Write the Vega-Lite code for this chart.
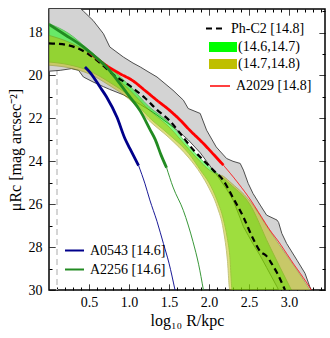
{
  "$schema": "https://vega.github.io/schema/vega-lite/v6.json",
  "width": 276,
  "height": 281,
  "autosize": "none",
  "padding": {"left": 49, "top": 9, "right": 5, "bottom": 48},
  "config": {
    "view": {"stroke": "black", "strokeWidth": 1.5},
    "font": "Liberation Serif"
  },
  "datasets": {
    "ref": [{"x": 0.1}],
    "gray": [
      {"x": 0, "hi": 16.0, "lo": 19.8},
      {"x": 0.14, "hi": 16.3, "lo": 19.76},
      {"x": 0.28, "hi": 16.6, "lo": 19.68},
      {"x": 0.37, "hi": 16.8, "lo": 19.76},
      {"x": 0.43, "hi": 17.0, "lo": 20.07},
      {"x": 0.55, "hi": 17.43, "lo": 20.3},
      {"x": 0.68, "hi": 18.05, "lo": 20.52},
      {"x": 0.76, "hi": 18.67, "lo": 20.65},
      {"x": 0.93, "hi": 19.14, "lo": 20.9},
      {"x": 1.05, "hi": 19.42, "lo": 21.15},
      {"x": 1.14, "hi": 19.6, "lo": 21.35},
      {"x": 1.25, "hi": 19.85, "lo": 21.6},
      {"x": 1.35, "hi": 20.07, "lo": 21.85},
      {"x": 1.55, "hi": 20.69, "lo": 22.4},
      {"x": 1.68, "hi": 21.15, "lo": 22.8},
      {"x": 1.74, "hi": 21.54, "lo": 23.0},
      {"x": 1.89, "hi": 21.77, "lo": 23.6},
      {"x": 1.97, "hi": 22.55, "lo": 24.0},
      {"x": 2.09, "hi": 23.33, "lo": 24.6},
      {"x": 2.22, "hi": 23.87, "lo": 25.3},
      {"x": 2.3, "hi": 24.0, "lo": 25.8},
      {"x": 2.39, "hi": 24.1, "lo": 26.65},
      {"x": 2.43, "hi": 24.41, "lo": 27.05},
      {"x": 2.49, "hi": 25.03, "lo": 27.45},
      {"x": 2.55, "hi": 25.5, "lo": 27.85},
      {"x": 2.64, "hi": 26.04, "lo": 28.4},
      {"x": 2.72, "hi": 26.51, "lo": 28.95},
      {"x": 2.85, "hi": 26.74, "lo": 29.85},
      {"x": 2.87, "hi": 26.85, "lo": 30},
      {"x": 2.91, "hi": 27.36, "lo": 30},
      {"x": 2.97, "hi": 27.83, "lo": 30},
      {"x": 3.1, "hi": 28.61, "lo": 30},
      {"x": 3.2, "hi": 29.22, "lo": 30},
      {"x": 3.26, "hi": 29.85, "lo": 30},
      {"x": 3.28, "hi": 30, "lo": 30}
    ],
    "bands": [
      {"s": "(14.6,14.7)", "x": 0, "hi": 17.58, "lo": 19.37},
      {"s": "(14.6,14.7)", "x": 0.25, "hi": 18.05, "lo": 19.5},
      {"s": "(14.6,14.7)", "x": 0.5, "hi": 18.82, "lo": 19.78},
      {"s": "(14.6,14.7)", "x": 0.75, "hi": 19.6, "lo": 20.3},
      {"s": "(14.6,14.7)", "x": 1.0, "hi": 20.45, "lo": 20.95},
      {"s": "(14.6,14.7)", "x": 1.25, "hi": 21.45, "lo": 21.95},
      {"s": "(14.6,14.7)", "x": 1.5, "hi": 22.2, "lo": 22.75},
      {"s": "(14.6,14.7)", "x": 1.75, "hi": 23.3, "lo": 23.65},
      {"s": "(14.6,14.7)", "x": 1.9, "hi": 23.9, "lo": 24.45},
      {"s": "(14.6,14.7)", "x": 2.0, "hi": 24.25, "lo": 25.0},
      {"s": "(14.6,14.7)", "x": 2.1, "hi": 24.55, "lo": 25.8},
      {"s": "(14.6,14.7)", "x": 2.18, "hi": 24.8, "lo": 26.7},
      {"s": "(14.6,14.7)", "x": 2.23, "hi": 24.95, "lo": 27.6},
      {"s": "(14.6,14.7)", "x": 2.26, "hi": 25.05, "lo": 28.4},
      {"s": "(14.6,14.7)", "x": 2.29, "hi": 25.15, "lo": 30},
      {"s": "(14.6,14.7)", "x": 2.5, "hi": 25.95, "lo": 30},
      {"s": "(14.6,14.7)", "x": 2.75, "hi": 27.9, "lo": 30},
      {"s": "(14.6,14.7)", "x": 3.03, "hi": 30, "lo": 30},
      {"s": "(14.7,14.8)", "x": 0, "hi": 18.13, "lo": 19.52},
      {"s": "(14.7,14.8)", "x": 0.25, "hi": 18.45, "lo": 19.64},
      {"s": "(14.7,14.8)", "x": 0.5, "hi": 18.95, "lo": 19.92},
      {"s": "(14.7,14.8)", "x": 0.75, "hi": 19.8, "lo": 20.45},
      {"s": "(14.7,14.8)", "x": 1.0, "hi": 20.65, "lo": 21.1},
      {"s": "(14.7,14.8)", "x": 1.25, "hi": 21.6, "lo": 22.1},
      {"s": "(14.7,14.8)", "x": 1.5, "hi": 22.4, "lo": 22.9},
      {"s": "(14.7,14.8)", "x": 1.75, "hi": 23.45, "lo": 23.85},
      {"s": "(14.7,14.8)", "x": 1.9, "hi": 24.05, "lo": 24.6},
      {"s": "(14.7,14.8)", "x": 2.0, "hi": 24.4, "lo": 25.25},
      {"s": "(14.7,14.8)", "x": 2.1, "hi": 24.6, "lo": 26.1},
      {"s": "(14.7,14.8)", "x": 2.18, "hi": 24.7, "lo": 27.2},
      {"s": "(14.7,14.8)", "x": 2.23, "hi": 24.85, "lo": 28.6},
      {"s": "(14.7,14.8)", "x": 2.26, "hi": 24.95, "lo": 30},
      {"s": "(14.7,14.8)", "x": 2.5, "hi": 25.8, "lo": 30},
      {"s": "(14.7,14.8)", "x": 2.75, "hi": 27.2, "lo": 30},
      {"s": "(14.7,14.8)", "x": 3.0, "hi": 28.55, "lo": 30},
      {"s": "(14.7,14.8)", "x": 3.14, "hi": 29.3, "lo": 30},
      {"s": "(14.7,14.8)", "x": 3.26, "hi": 30, "lo": 30}
    ],
    "lines": [
      {"s": "Ph-C2 [14.8]", "seg": "dash", "x": 0, "y": 18.5},
      {"s": "Ph-C2 [14.8]", "seg": "dash", "x": 0.1, "y": 18.52},
      {"s": "Ph-C2 [14.8]", "seg": "dash", "x": 0.2, "y": 18.56},
      {"s": "Ph-C2 [14.8]", "seg": "dash", "x": 0.35, "y": 18.72},
      {"s": "Ph-C2 [14.8]", "seg": "dash", "x": 0.5, "y": 19.02},
      {"s": "Ph-C2 [14.8]", "seg": "dash", "x": 0.65, "y": 19.45},
      {"s": "Ph-C2 [14.8]", "seg": "dash", "x": 0.8, "y": 19.95},
      {"s": "Ph-C2 [14.8]", "seg": "dash", "x": 1.0, "y": 20.45},
      {"s": "Ph-C2 [14.8]", "seg": "dash", "x": 1.2, "y": 21.05},
      {"s": "Ph-C2 [14.8]", "seg": "dash", "x": 1.35, "y": 21.6},
      {"s": "Ph-C2 [14.8]", "seg": "dash", "x": 1.5, "y": 22.08},
      {"s": "Ph-C2 [14.8]", "seg": "dash", "x": 1.64, "y": 22.7},
      {"s": "Ph-C2 [14.8]", "seg": "dash", "x": 1.8, "y": 23.45},
      {"s": "Ph-C2 [14.8]", "seg": "dash", "x": 1.93, "y": 23.95},
      {"s": "Ph-C2 [14.8]", "seg": "dash", "x": 2.05, "y": 24.4},
      {"s": "Ph-C2 [14.8]", "seg": "dash", "x": 2.18, "y": 24.9},
      {"s": "Ph-C2 [14.8]", "seg": "dash", "x": 2.3, "y": 25.7},
      {"s": "Ph-C2 [14.8]", "seg": "dash", "x": 2.43, "y": 26.6},
      {"s": "Ph-C2 [14.8]", "seg": "dash", "x": 2.55, "y": 27.6},
      {"s": "Ph-C2 [14.8]", "seg": "dash", "x": 2.64, "y": 28.2},
      {"s": "Ph-C2 [14.8]", "seg": "dash", "x": 2.72, "y": 28.42},
      {"s": "Ph-C2 [14.8]", "seg": "dash", "x": 2.78, "y": 28.75},
      {"s": "Ph-C2 [14.8]", "seg": "dash", "x": 2.85, "y": 29.2},
      {"s": "Ph-C2 [14.8]", "seg": "dash", "x": 2.95, "y": 30},
      {"s": "A2029 [14.8]", "seg": "thick", "x": 0.5, "y": 18.9},
      {"s": "A2029 [14.8]", "seg": "thick", "x": 0.55, "y": 19.06},
      {"s": "A2029 [14.8]", "seg": "thick", "x": 0.71, "y": 19.52},
      {"s": "A2029 [14.8]", "seg": "thick", "x": 0.88, "y": 19.9},
      {"s": "A2029 [14.8]", "seg": "thick", "x": 1.05, "y": 20.25},
      {"s": "A2029 [14.8]", "seg": "thick", "x": 1.2, "y": 20.7},
      {"s": "A2029 [14.8]", "seg": "thick", "x": 1.35, "y": 21.16},
      {"s": "A2029 [14.8]", "seg": "thick", "x": 1.5, "y": 21.6},
      {"s": "A2029 [14.8]", "seg": "thick", "x": 1.64, "y": 22.08},
      {"s": "A2029 [14.8]", "seg": "thick", "x": 1.76, "y": 22.55},
      {"s": "A2029 [14.8]", "seg": "thick", "x": 1.93, "y": 23.17},
      {"s": "A2029 [14.8]", "seg": "thick", "x": 2.05, "y": 23.65},
      {"s": "A2029 [14.8]", "seg": "thick", "x": 2.18, "y": 24.18},
      {"s": "A2029 [14.8]", "seg": "thin", "x": 2.18, "y": 24.18},
      {"s": "A2029 [14.8]", "seg": "thin", "x": 2.35, "y": 24.95},
      {"s": "A2029 [14.8]", "seg": "thin", "x": 2.51, "y": 25.75},
      {"s": "A2029 [14.8]", "seg": "thin", "x": 2.64, "y": 26.5},
      {"s": "A2029 [14.8]", "seg": "thin", "x": 2.76, "y": 27.2},
      {"s": "A2029 [14.8]", "seg": "thin", "x": 2.88, "y": 27.8},
      {"s": "A2029 [14.8]", "seg": "thin", "x": 2.97, "y": 28.3},
      {"s": "A2029 [14.8]", "seg": "thin", "x": 3.06, "y": 28.8},
      {"s": "A2029 [14.8]", "seg": "thin", "x": 3.14, "y": 29.22},
      {"s": "A2029 [14.8]", "seg": "thin", "x": 3.21, "y": 29.6},
      {"s": "A2029 [14.8]", "seg": "thin", "x": 3.28, "y": 30},
      {"s": "A0543 [14.6]", "seg": "thick", "x": 0.45, "y": 19.6},
      {"s": "A0543 [14.6]", "seg": "thick", "x": 0.51, "y": 19.84},
      {"s": "A0543 [14.6]", "seg": "thick", "x": 0.64, "y": 20.55},
      {"s": "A0543 [14.6]", "seg": "thick", "x": 0.72, "y": 21.0},
      {"s": "A0543 [14.6]", "seg": "thick", "x": 0.85, "y": 21.95},
      {"s": "A0543 [14.6]", "seg": "thick", "x": 0.95, "y": 22.95},
      {"s": "A0543 [14.6]", "seg": "thick", "x": 1.01, "y": 23.4},
      {"s": "A0543 [14.6]", "seg": "thick", "x": 1.12, "y": 24.2},
      {"s": "A0543 [14.6]", "seg": "thin", "x": 1.12, "y": 24.2},
      {"s": "A0543 [14.6]", "seg": "thin", "x": 1.2, "y": 25.05},
      {"s": "A0543 [14.6]", "seg": "thin", "x": 1.26, "y": 25.8},
      {"s": "A0543 [14.6]", "seg": "thin", "x": 1.35, "y": 26.8},
      {"s": "A0543 [14.6]", "seg": "thin", "x": 1.43, "y": 27.83},
      {"s": "A0543 [14.6]", "seg": "thin", "x": 1.5, "y": 28.75},
      {"s": "A0543 [14.6]", "seg": "thin", "x": 1.575, "y": 30},
      {"s": "A2256 [14.6]", "seg": "thick", "x": 0, "y": 17.62},
      {"s": "A2256 [14.6]", "seg": "thick", "x": 0.2, "y": 18.1},
      {"s": "A2256 [14.6]", "seg": "thick", "x": 0.43, "y": 18.67},
      {"s": "A2256 [14.6]", "seg": "thick", "x": 0.6, "y": 19.2},
      {"s": "A2256 [14.6]", "seg": "thick", "x": 0.72, "y": 19.6},
      {"s": "A2256 [14.6]", "seg": "thick", "x": 0.85, "y": 20.2},
      {"s": "A2256 [14.6]", "seg": "thick", "x": 1.0, "y": 20.95},
      {"s": "A2256 [14.6]", "seg": "thick", "x": 1.14, "y": 21.65},
      {"s": "A2256 [14.6]", "seg": "thick", "x": 1.26, "y": 22.5},
      {"s": "A2256 [14.6]", "seg": "thick", "x": 1.33, "y": 23.0},
      {"s": "A2256 [14.6]", "seg": "thick", "x": 1.4, "y": 23.7},
      {"s": "A2256 [14.6]", "seg": "thick", "x": 1.47, "y": 24.3},
      {"s": "A2256 [14.6]", "seg": "thin", "x": 1.47, "y": 24.3},
      {"s": "A2256 [14.6]", "seg": "thin", "x": 1.55, "y": 25.2},
      {"s": "A2256 [14.6]", "seg": "thin", "x": 1.68, "y": 26.3},
      {"s": "A2256 [14.6]", "seg": "thin", "x": 1.8, "y": 27.75},
      {"s": "A2256 [14.6]", "seg": "thin", "x": 1.87, "y": 28.8},
      {"s": "A2256 [14.6]", "seg": "thin", "x": 1.93, "y": 30}
    ]
  },
  "layer": [
    {
      "data": {"name": "ref"},
      "mark": {"type": "rule", "color": "#c8c8c8", "strokeDash": [6, 4], "strokeWidth": 1.5},
      "encoding": {
        "x": {"field": "x", "type": "quantitative", "scale": {"domain": [0, 3.45], "nice": false, "zero": false}, "axis": null}
      }
    },
    {
      "data": {"name": "gray"},
      "mark": {"type": "area", "fill": "#d3d3d3", "stroke": "#3c3c3c", "strokeWidth": 0.9, "clip": true},
      "encoding": {
        "x": {
          "field": "x", "type": "quantitative",
          "scale": {"domain": [0, 3.45], "nice": false, "zero": false},
          "axis": {
            "orient": "bottom",
            "values": [0.1,0.2,0.3,0.4,0.5,0.6,0.7,0.8,0.9,1.0,1.1,1.2,1.3,1.4,1.5,1.6,1.7,1.8,1.9,2.0,2.1,2.2,2.3,2.4,2.5,2.6,2.7,2.8,2.9,3.0,3.1,3.2,3.3,3.4],
            "labelExpr": "abs(datum.value*2 - round(datum.value*2)) < 0.01 ? format(datum.value, '.1f') : ''",
            "labelOverlap": false, "labelFlush": false,
            "tickSize": -6, "tickColor": "black", "tickWidth": 1,
            "tickDash": {"condition": {"test": "abs(datum.value*2 - round(datum.value*2)) < 0.01", "value": [1, 0]}, "value": [3, 20]},
            "domain": false, "grid": false,
            "labelFont": "Liberation Serif", "labelFontSize": 14, "labelColor": "black", "labelPadding": 11,
            "title": "log₁₀ R/kpc", "titleFont": "Liberation Serif", "titleFontSize": 16, "titleFontWeight": "normal", "titleColor": "black", "titlePadding": 3
          }
        },
        "y": {
          "field": "hi", "type": "quantitative",
          "scale": {"domain": [16.9, 30], "reverse": true, "nice": false, "zero": false},
          "axis": {
            "orient": "left",
            "values": [17,18,19,20,21,22,23,24,25,26,27,28,29,30],
            "labelExpr": "datum.value % 2 == 0 ? format(datum.value, 'd') : ''",
            "labelOverlap": false, "labelFlush": false,
            "tickSize": -6, "tickColor": "black", "tickWidth": 1,
            "tickDash": {"condition": {"test": "datum.value % 2 == 0", "value": [1, 0]}, "value": [3, 20]},
            "domain": false, "grid": false,
            "labelFont": "Liberation Serif", "labelFontSize": 14, "labelColor": "black", "labelPadding": 13,
            "title": "μRc [mag arcsec⁻²]", "titleFont": "Liberation Serif", "titleFontSize": 16, "titleFontWeight": "normal", "titleColor": "black", "titlePadding": 5
          }
        },
        "y2": {"field": "lo"}
      }
    },
    {
      "layer": [
        {
          "data": {"name": "bands"},
          "transform": [{"filter": "datum.s == '(14.6,14.7)'"}],
          "mark": {"type": "area", "opacity": 0.5, "stroke": "#00a800", "strokeWidth": 1, "interpolate": "monotone", "clip": true},
          "encoding": {
            "x": {"field": "x", "type": "quantitative", "scale": {"domain": [0, 3.45], "nice": false, "zero": false}, "axis": null},
            "y": {"field": "hi", "type": "quantitative", "stack": null, "scale": {"domain": [16.9, 30], "reverse": true, "nice": false, "zero": false}, "axis": null},
            "y2": {"field": "lo"},
            "fill": {
              "field": "s", "type": "nominal",
              "scale": {"domain": ["(14.6,14.7)", "(14.7,14.8)"], "range": ["#00ff00", "#bfbf00"]},
              "legend": {
                "orient": "none", "legendX": 164, "legendY": 28, "title": null,
                "labelFont": "Liberation Serif", "labelFontSize": 14, "labelColor": "black",
                "symbolType": "M-1.4,-0.5H1.4V0.5H-1.4Z", "symbolSize": 400, "symbolOpacity": 1, "symbolStrokeWidth": 0,
                "labelOffset": 5, "rowPadding": -1, "padding": 0
              }
            }
          }
        },
        {
          "data": {"name": "bands"},
          "transform": [{"filter": "datum.s == '(14.7,14.8)'"}],
          "mark": {"type": "area", "opacity": 0.5, "stroke": "#8a8a00", "strokeWidth": 1, "interpolate": "monotone", "clip": true},
          "encoding": {
            "x": {"field": "x", "type": "quantitative", "scale": {"domain": [0, 3.45], "nice": false, "zero": false}, "axis": null},
            "y": {"field": "hi", "type": "quantitative", "stack": null, "scale": {"domain": [16.9, 30], "reverse": true, "nice": false, "zero": false}, "axis": null},
            "y2": {"field": "lo"},
            "fill": {"field": "s", "type": "nominal"}
          }
        },
        {
          "data": {"name": "lines"},
          "transform": [{"filter": "datum.s == 'Ph-C2 [14.8]' || datum.s == 'A2029 [14.8]'"}],
          "mark": {"type": "line", "interpolate": "monotone", "clip": true},
          "encoding": {
            "x": {"field": "x", "type": "quantitative", "scale": {"domain": [0, 3.45], "nice": false, "zero": false}, "axis": null},
            "y": {"field": "y", "type": "quantitative", "scale": {"domain": [16.9, 30], "reverse": true, "nice": false, "zero": false}, "axis": null},
            "detail": {"field": "seg"},
            "stroke": {
              "field": "s", "type": "nominal",
              "scale": {"domain": ["A2029 [14.8]", "Ph-C2 [14.8]"], "range": ["red", "black"]},
              "legend": {
                "orient": "none", "legendX": 160, "legendY": 66, "title": null, "values": ["A2029 [14.8]"],
                "labelFont": "Liberation Serif", "labelFontSize": 14, "labelColor": "black",
                "symbolType": "M-1,0H1", "symbolSize": 400, "symbolStrokeWidth": 1.5,
                "labelOffset": 5, "padding": 0
              }
            },
            "strokeDash": {
              "field": "s", "type": "nominal",
              "scale": {"domain": ["Ph-C2 [14.8]", "A2029 [14.8]"], "range": [[6, 4], [1, 0]]},
              "legend": {
                "orient": "none", "legendX": 154, "legendY": 8, "title": null, "values": ["Ph-C2 [14.8]"],
                "labelFont": "Liberation Serif", "labelFontSize": 14, "labelColor": "black",
                "symbolType": "M-0.85,0H0.85", "symbolSize": 400, "symbolStrokeWidth": 2.2, "symbolStrokeColor": "black",
                "labelOffset": 5, "padding": 0
              }
            },
            "strokeWidth": {"field": "seg", "type": "nominal", "scale": {"type": "ordinal", "domain": ["thick", "thin", "dash"], "range": [2.8, 0.9, 2.2]}, "legend": null}
          }
        }
      ]
    },
    {
      "data": {"name": "lines"},
      "transform": [{"filter": "datum.s == 'A0543 [14.6]' || datum.s == 'A2256 [14.6]'"}],
      "mark": {"type": "line", "interpolate": "monotone", "clip": true},
      "encoding": {
        "x": {
          "field": "x", "type": "quantitative", "scale": {"domain": [0, 3.45], "nice": false, "zero": false},
          "axis": {
            "orient": "top",
            "values": [0.1,0.2,0.3,0.4,0.5,0.6,0.7,0.8,0.9,1.0,1.1,1.2,1.3,1.4,1.5,1.6,1.7,1.8,1.9,2.0,2.1,2.2,2.3,2.4,2.5,2.6,2.7,2.8,2.9,3.0,3.1,3.2,3.3,3.4],
            "labels": false, "title": null, "domain": false, "grid": false,
            "tickSize": -6, "tickColor": "black", "tickWidth": 1,
            "tickDash": {"condition": {"test": "abs(datum.value*2 - round(datum.value*2)) < 0.01", "value": [1, 0]}, "value": [3, 20]}
          }
        },
        "y": {
          "field": "y", "type": "quantitative", "scale": {"domain": [16.9, 30], "reverse": true, "nice": false, "zero": false},
          "axis": {
            "orient": "right",
            "values": [17,18,19,20,21,22,23,24,25,26,27,28,29,30],
            "labels": false, "title": null, "domain": false, "grid": false,
            "tickSize": -6, "tickColor": "black", "tickWidth": 1,
            "tickDash": {"condition": {"test": "datum.value % 2 == 0", "value": [1, 0]}, "value": [3, 20]}
          }
        },
        "detail": {"field": "seg"},
        "color": {
          "field": "s", "type": "nominal",
          "scale": {"domain": ["A0543 [14.6]", "A2256 [14.6]"], "range": ["#00008b", "#228b22"]},
          "legend": {
            "orient": "none", "legendX": 15, "legendY": 231, "title": null,
            "labelFont": "Liberation Serif", "labelFontSize": 14, "labelColor": "black",
            "symbolType": "stroke", "symbolSize": 360, "symbolStrokeWidth": 2, "labelOffset": 5, "rowPadding": 1, "padding": 0
          }
        },
        "strokeWidth": {"field": "seg", "type": "nominal", "scale": {"type": "ordinal", "domain": ["thick", "thin", "dash"], "range": [2.8, 0.9, 2.2]}, "legend": null}
      }
    }
  ],
  "resolve": {
    "scale": {"color": "independent"},
    "axis": {"x": "independent", "y": "independent"}
  }
}
